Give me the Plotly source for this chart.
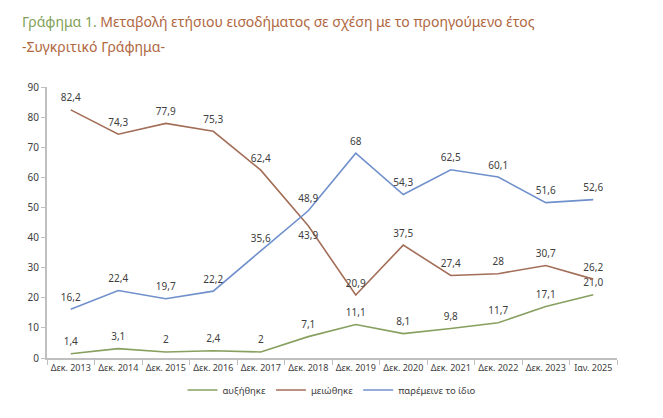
import plotly.graph_objects as go

categories = ["Δεκ. 2013", "Δεκ. 2014", "Δεκ. 2015", "Δεκ. 2016", "Δεκ. 2017", "Δεκ. 2018",
              "Δεκ. 2019", "Δεκ. 2020", "Δεκ. 2021", "Δεκ. 2022", "Δεκ. 2023", "Ιαν. 2025"]

increased = [1.4, 3.1, 2, 2.4, 2, 7.1, 11.1, 8.1, 9.8, 11.7, 17.1, 21.0]
increased_labels = ["1,4", "3,1", "2", "2,4", "2", "7,1", "11,1", "8,1", "9,8", "11,7", "17,1", "21,0"]

decreased = [82.4, 74.3, 77.9, 75.3, 62.4, 43.9, 20.9, 37.5, 27.4, 28, 30.7, 26.2]
decreased_labels = ["82,4", "74,3", "77,9", "75,3", "62,4", "43,9", "20,9", "37,5", "27,4", "28", "30,7", "26,2"]

same = [16.2, 22.4, 19.7, 22.2, 35.6, 48.9, 68, 54.3, 62.5, 60.1, 51.6, 52.6]
same_labels = ["16,2", "22,4", "19,7", "22,2", "35,6", "48,9", "68", "54,3", "62,5", "60,1", "51,6", "52,6"]

y_ticks = [0, 10, 20, 30, 40, 50, 60, 70, 80, 90]

FONT = "Noto Sans"
LABEL_COLOR = "#404040"
GREEN = "#87a060"
BROWN = "#a36e58"
BLUE = "#7090cc"

fig = go.Figure()

def add(name, values, labels, color, positions=None):
    fig.add_trace(go.Scatter(
        x=categories, y=values, name=name,
        mode="lines+markers+text",
        line=dict(color=color, width=1.6),
        marker=dict(size=8, color="rgba(0,0,0,0)"),
        text=labels,
        textposition=positions if positions else "top center",
        textfont=dict(family=FONT, size=10, color=LABEL_COLOR),
        cliponaxis=False,
        hoverinfo="x+y+name",
    ))

add("αυξήθηκε", increased, increased_labels, GREEN)
brown_pos = ["top center"] * len(decreased)
brown_pos[5] = "bottom center"
add("μειώθηκε", decreased, decreased_labels, BROWN, brown_pos)
add("παρέμεινε το ίδιο", same, same_labels, BLUE)

fig.update_layout(
    width=655, height=410,
    margin=dict(l=39, r=46, t=79, b=60),
    paper_bgcolor="white", plot_bgcolor="white",
    font=dict(family=FONT, size=10, color=LABEL_COLOR),
    showlegend=True,
    legend=dict(orientation="h", x=0.5, xanchor="center", y=-0.118, yanchor="middle",
                font=dict(family=FONT, size=9.5, color=LABEL_COLOR),
                traceorder="normal"),
    xaxis=dict(
        type="category", range=[-0.5, 11.5],
        showline=True, linecolor="#bfbfbf", linewidth=1.5,
        ticks="outside", tickson="boundaries", ticklen=5, tickcolor="#bfbfbf", tickwidth=1,
        showgrid=False, zeroline=False, tickangle=0, automargin=False,
        tickfont=dict(family=FONT, size=9, color=LABEL_COLOR),
    ),
    yaxis=dict(
        range=[0, 90], tickvals=y_ticks,
        showline=True, linecolor="#bfbfbf", linewidth=2,
        ticks="outside", ticklen=4, tickcolor="#bfbfbf", tickwidth=1,
        showgrid=False, zeroline=False, automargin=False,
        tickfont=dict(family=FONT, size=10, color=LABEL_COLOR),
    ),
    annotations=[
        dict(xref="paper", yref="paper", x=-0.0474, y=1.2399, xanchor="left", yanchor="middle",
             showarrow=False,
             text="<span style='color:#7f9f58'>Γράφημα 1.</span> Μεταβολή ετήσιου εισοδήματος σε σχέση με το προηγούμενο έτος",
             font=dict(family=FONT, size=14, color="#b0673f")),
        dict(xref="paper", yref="paper", x=-0.0474, y=1.151, xanchor="left", yanchor="middle",
             showarrow=False, text="-Συγκριτικό Γράφημα-",
             font=dict(family=FONT, size=14, color="#b0673f")),
    ],
)

fig.write_html("out.html")
